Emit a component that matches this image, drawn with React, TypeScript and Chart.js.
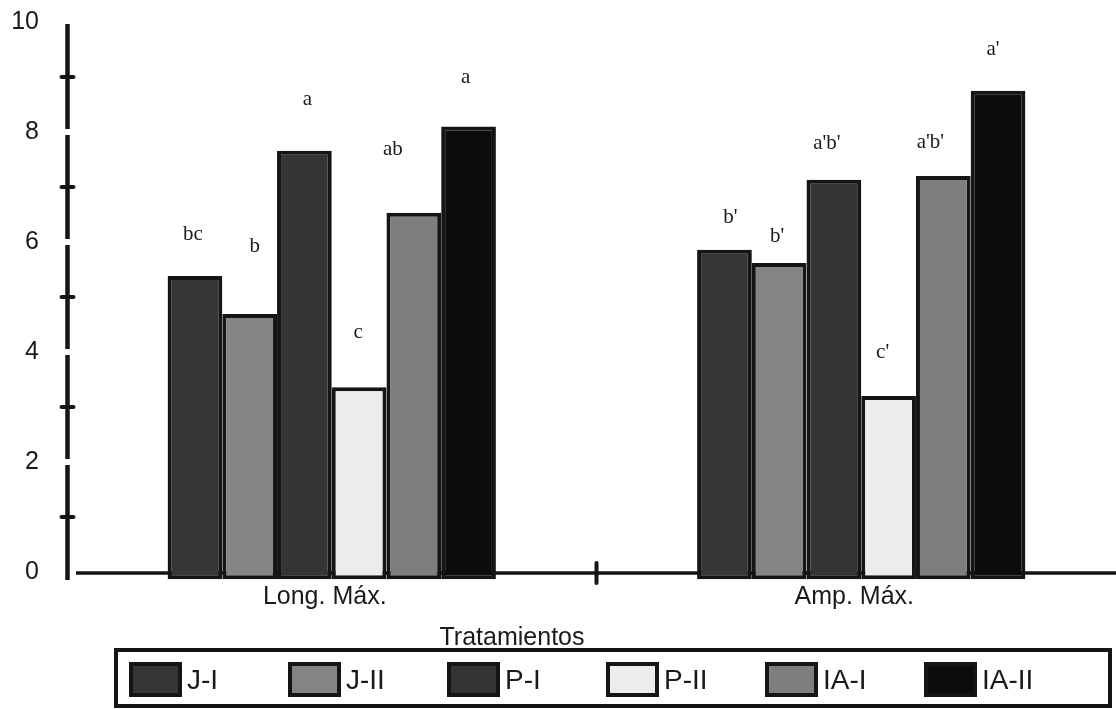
import React, { useEffect, useRef } from 'react';
import { Chart, registerables } from 'chart.js';

Chart.register(...registerables);

// ---------- data ----------
const categories = ['Long. Máx.', 'Amp. Máx.'];
const treatments = ['J-I', 'J-II', 'P-I', 'P-II', 'IA-I', 'IA-II'];
const valuesJI = [5.38, 5.86];
const valuesJII = [4.69, 5.62];
const valuesPI = [7.66, 7.13];
const valuesPII = [3.36, 3.2];
const valuesIAI = [6.53, 7.2];
const valuesIAII = [8.1, 8.75];
const lettersJI = ['bc', "b'"];
const lettersJII = ['b', "b'"];
const lettersPI = ['a', "a'b'"];
const lettersPII = ['c', "c'"];
const lettersIAI = ['ab', "a'b'"];
const lettersIAII = ['a', "a'"];
const yTickValues = [0, 2, 4, 6, 8, 10];
const yMinorTicks = [1, 3, 5, 7, 9];
const axisTitle = 'Tratamientos';

// ---------- styles / layout ----------
const seriesValues = [valuesJI, valuesJII, valuesPI, valuesPII, valuesIAI, valuesIAII];
const seriesLetters = [lettersJI, lettersJII, lettersPI, lettersPII, lettersIAI, lettersIAII];
const seriesColors = ['#363636', '#848484', '#343434', '#ececec', '#7e7e7e', '#0c0c0c'];
const letterLift = [[36, 27], [62, 21], [46, 31], [49, 38], [58, 28], [44, 36]];
const letterShift = [[-2, 6], [5, -2], [3, -7], [-1, -6], [-21, -13], [-3, -5]];
const INK = '#151515';
const SANS = '"Liberation Sans", Arial, Helvetica, sans-serif';
const SERIF = '"Liberation Serif", "Times New Roman", serif';

const decorPlugin = {
  id: 'decor',
  beforeDatasetsDraw(chart: any) {
    const { ctx, scales } = chart;
    const x = scales.x;
    const y = scales.y;
    const y0 = y.getPixelForValue(0);
    const ax = chart.chartArea.left + 0.5;
    ctx.save();
    ctx.strokeStyle = INK;
    // horizontal axis
    ctx.lineWidth = 3.5;
    ctx.beginPath();
    ctx.moveTo(76, y0 + 1);
    ctx.lineTo(chart.width, y0 + 1);
    ctx.stroke();
    // category separator tick
    const xm = x.getPixelForValue(0.5);
    ctx.lineWidth = 4;
    ctx.lineCap = 'round';
    ctx.beginPath();
    ctx.moveTo(xm, y0 - 9);
    ctx.lineTo(xm, y0 + 11);
    ctx.stroke();
    // vertical axis with small breaks at the labelled values
    ctx.lineCap = 'butt';
    ctx.lineWidth = 4.5;
    const breaks = yTickValues
      .filter((v) => v > 0 && v < 10)
      .map((v) => y.getPixelForValue(v))
      .sort((a: number, b: number) => a - b);
    let start = y.getPixelForValue(10) + 2;
    const end = y0 + 8;
    ctx.beginPath();
    for (const b of breaks) {
      ctx.moveTo(ax, start);
      ctx.lineTo(ax, b - 3);
      start = b + 3;
    }
    ctx.moveTo(ax, start);
    ctx.lineTo(ax, end);
    ctx.stroke();
    // minor ticks
    ctx.lineWidth = 4;
    ctx.lineCap = 'round';
    for (const v of yMinorTicks) {
      const py = y.getPixelForValue(v);
      ctx.beginPath();
      ctx.moveTo(ax - 6, py);
      ctx.lineTo(ax + 6, py);
      ctx.stroke();
    }
    ctx.restore();
  },
  afterDatasetsDraw(chart: any) {
    const { ctx } = chart;
    ctx.save();
    ctx.fillStyle = '#1a1a1a';
    ctx.font = `21px ${SERIF}`;
    ctx.textAlign = 'center';
    ctx.textBaseline = 'alphabetic';
    chart.data.datasets.forEach((ds: any, i: number) => {
      const meta = chart.getDatasetMeta(i);
      meta.data.forEach((el: any, j: number) => {
        const p = el.getProps(['x', 'y'], true);
        ctx.fillText(seriesLetters[i][j], p.x + letterShift[i][j], p.y - letterLift[i][j]);
      });
    });
    ctx.restore();
  },
  afterDraw(chart: any) {
    const { ctx } = chart;
    ctx.save();
    ctx.fillStyle = '#1a1a1a';
    ctx.font = `25px ${SANS}`;
    ctx.textAlign = 'center';
    ctx.textBaseline = 'alphabetic';
    ctx.fillText(axisTitle, 512, 645);
    // legend frame
    ctx.strokeStyle = INK;
    ctx.lineWidth = 4;
    ctx.strokeRect(116, 650, 994, 56);
    ctx.font = `28px ${SANS}`;
    ctx.textAlign = 'left';
    chart.data.datasets.forEach((ds: any, i: number) => {
      const sx = 129 + 159 * i;
      ctx.fillStyle = ds.backgroundColor;
      ctx.fillRect(sx, 662, 53, 35);
      ctx.lineWidth = 4;
      ctx.strokeStyle = INK;
      ctx.strokeRect(sx + 2, 664, 49, 31);
      ctx.fillStyle = '#1a1a1a';
      ctx.fillText(ds.label, sx + 58, 689);
    });
    ctx.restore();
  },
};

export default function App() {
  const ref = useRef<HTMLCanvasElement>(null);
  useEffect(() => {
    const canvas = ref.current;
    if (!canvas) return;
    const chart = new Chart(canvas, {
      type: 'bar',
      data: {
        labels: categories,
        datasets: treatments.map((name, i) => ({
          label: name,
          data: seriesValues[i],
          backgroundColor: seriesColors[i],
          borderColor: INK,
          borderWidth: 4,
          borderSkipped: false,
          base: -0.13,
          clip: false as any,
        })),
      },
      options: {
        responsive: false,
        devicePixelRatio: 1,
        animation: false,
        layout: { padding: { top: 22, right: 0, left: 0, bottom: 0 } },
        datasets: { bar: { categoryPercentage: 0.62, barPercentage: 1 } },
        plugins: {
          legend: { display: false },
          tooltip: { enabled: false },
          title: { display: false },
        },
        scales: {
          x: {
            type: 'category',
            grid: { display: false, drawTicks: false },
            border: { display: false },
            ticks: {
              color: '#1a1a1a',
              font: { family: SANS, size: 25 },
              padding: 10,
              labelOffset: -7,
              maxRotation: 0,
            },
            afterFit: (s: any) => {
              s.height = 137;
            },
          },
          y: {
            type: 'linear',
            min: 0,
            max: 10,
            grid: {
              display: true,
              drawOnChartArea: false,
              drawTicks: true,
              tickLength: 28,
              color: 'rgba(0,0,0,0)',
            },
            border: { display: false },
            ticks: {
              color: '#1a1a1a',
              font: { family: SANS, size: 25 },
              padding: 0,
            },
            afterBuildTicks: (s: any) => {
              s.ticks = yTickValues.map((v) => ({ value: v }));
            },
            afterFit: (s: any) => {
              s.width = 67;
            },
          },
        },
      },
      plugins: [decorPlugin],
    });
    return () => chart.destroy();
  }, []);

  return (
    <div
      style={{
        position: 'absolute',
        left: 0,
        top: 0,
        width: 1116,
        height: 709,
        overflow: 'hidden',
        background: '#ffffff',
      }}
    >
      <canvas ref={ref} width={1126} height={709} style={{ display: 'block', width: 1126, height: 709 }} />
    </div>
  );
}
